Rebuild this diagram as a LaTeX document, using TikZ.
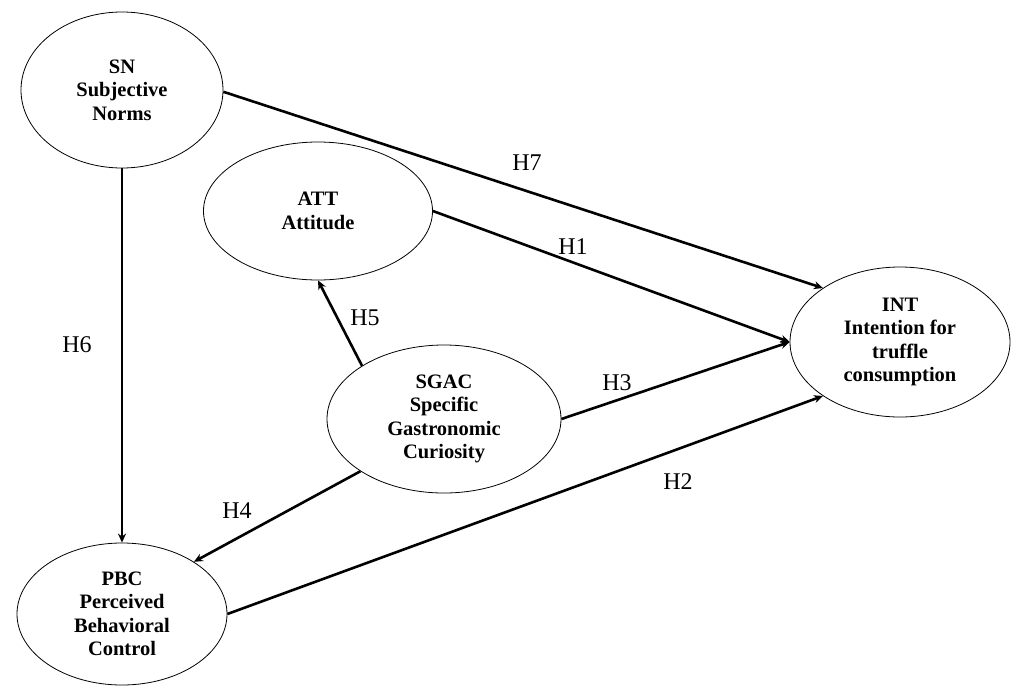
\documentclass[tikz,border=0pt]{standalone}
\usepackage{fontspec}
\setmainfont{Liberation Serif}
\usetikzlibrary{shapes.geometric,arrows.meta}
\begin{document}
\begin{tikzpicture}[x=1pt,y=-1pt,
  construct/.style={draw,ellipse,line width=0.8pt,inner sep=0pt,align=center,
    font=\bfseries\fontsize{20.5}{23.5}\selectfont},
  path/.style={line width=2.6pt,-{Stealth[length=9pt,width=8pt]}},
  hlab/.style={font=\fontsize{24}{26}\selectfont,inner sep=0pt}]
\useasboundingbox (0,0) rectangle (1026,686);
\node[construct,minimum width=202pt,minimum height=156pt] (SN) at (122,90) {SN\\Subjective\\Norms};
\node[construct,minimum width=229pt,minimum height=138pt] (ATT) at (318,211) {ATT\\Attitude};
\node[construct,minimum width=220pt,minimum height=150pt] (INT) at (900,342) {INT\\Intention for\\truffle\\consumption};
\node[construct,minimum width=234pt,minimum height=148pt] (SGAC) at (444,419) {SGAC\\Specific\\Gastronomic\\Curiosity};
\node[construct,minimum width=210pt,minimum height=142pt] (PBC) at (122,614) {PBC\\Perceived\\Behavioral\\Control};

\draw[path] (SN.-1) -- (INT.145);
\draw[path] (ATT.east) -- (INT.west);
\draw[path] (SGAC.east) -- (INT.west);
\draw[path] (PBC.east) -- (INT.215);
\draw[path] (SGAC.147) -- (ATT.south);
\draw[path] (SGAC.212) -- (PBC.36);
\draw[path] (SN.south) -- (PBC.north);

\node[hlab] (h7) at (527,163) {H7};
\node[hlab] (h1) at (573,247) {H1};
\node[hlab] (h5) at (365,318) {H5};
\node[hlab] (h6) at (77,345) {H6};
\node[hlab] (h3) at (617,383) {H3};
\node[hlab] (h4) at (237,511) {H4};
\node[hlab] (h2) at (678,482) {H2};
\end{tikzpicture}
\end{document}
